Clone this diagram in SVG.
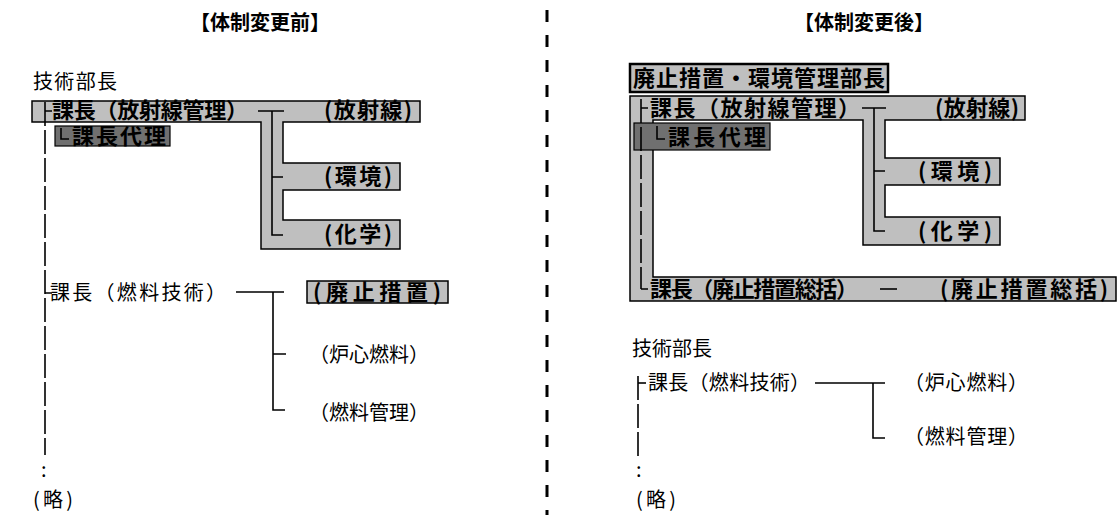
<svg xmlns="http://www.w3.org/2000/svg" width="1120" height="515" viewBox="0 0 1120 515">
<style>
text{font-family:"Noto Sans CJK JP","Noto Sans",sans-serif;font-size:20px;fill:#000}
.t{font-weight:700}
.h{font-weight:700;font-size:22px}
.g{fill:#bfbfbf;stroke:none}
.o{fill:none;stroke:#000;stroke-width:1.5}
.d{fill:#707070;stroke:#000;stroke-width:1.2}
.c{stroke:#000;stroke-width:1.6;fill:none}
.dash{stroke-dasharray:24 4}
.sep{stroke:#000;stroke-width:3;stroke-dasharray:12 13}
</style>
<rect width="1120" height="515" fill="#fff"/>

<g id="titles">
<text class="t" x="260" y="30" text-anchor="middle">【体制変更前】</text>
<text class="t" x="864" y="30" text-anchor="middle">【体制変更後】</text>
</g>
<line id="separator" class="sep" x1="547" y1="10" x2="547" y2="515"/>

<!-- LEFT PANEL -->
<g id="L_shade">
<path class="g" d="M32,101H420V122H283V163H400V190H283V220H400V249H261V122H32Z"/>
<path class="o" d="M32,101H420V122H283V163H400V190H283V220H400V249H261V122H32Z"/>
<rect class="d" x="55" y="126" width="115" height="20"/>
<rect class="g" x="307" y="281" width="141" height="22"/>
<rect class="o" x="307" y="281" width="141" height="22"/>
</g>

<g id="L_connectors">
<path class="c dash" d="M45,102V455"/>
<path class="c" d="M45,111H52M45,293H52"/>
<path class="c" d="M61,128V139H69"/>
<path class="c" d="M258,111H284M272,111V235H283M272,177H283"/>
<path class="c" d="M236,292H284M273,292V410H285M273,354H286"/>
</g>

<g id="L_head"><text x="33" y="89" textLength="84">技術部長</text></g>
<g id="L_rad"><text class="h" x="52" y="118" font-size="21" textLength="196">課長（放射線管理）</text></g>
<g id="L_dep"><text class="h" x="72" y="144" font-size="18" textLength="94">課長代理</text></g>
<g id="L_rad_g"><text class="h" x="324" y="118" font-size="21" textLength="88">(放射線)</text></g>
<g id="L_env"><text class="h" x="324" y="184" textLength="68">(環境)</text></g>
<g id="L_chem"><text class="h" x="324" y="242" textLength="68">(化学)</text></g>
<g id="L_fuel"><text x="50" y="300" textLength="176">課長（燃料技術）</text></g>
<g id="L_decom"><text class="h" x="313" y="300" textLength="128">(廃止措置)</text></g>
<g id="L_core"><text x="309" y="362" textLength="120">（炉心燃料）</text></g>
<g id="L_fmgmt"><text x="309" y="420" textLength="120">（燃料管理）</text></g>
<g id="L_more"><text x="41" y="477" font-size="18">:</text><text x="33" y="507" textLength="40">(略)</text></g>

<!-- RIGHT PANEL -->
<g id="R_shade">
<path class="g" d="M630,96H1025V120H885V158H1000V185H885V217H1000V245H863V120H653V277H1116V301H630Z"/>
<path class="o" d="M630,96H1025V120H885V158H1000V185H885V217H1000V245H863V120H653V277H1116V301H630Z"/>
<rect class="d" x="634" y="123" width="136" height="27"/>
<rect x="630" y="64" width="258" height="28" fill="#bfbfbf" stroke="#000" stroke-width="2.5"/>
</g>

<g id="R_connectors">
<path class="c dash" d="M641,99V289"/>
<path class="c" d="M641,108H648M641,289H648"/>
<path class="c" d="M657,126V139H665"/>
<path class="c" d="M862,108H886M874,108V231H885M874,171H885"/>
<path class="c" d="M880,289H897"/>
<path class="c dash" d="M638,376V456"/>
<path class="c" d="M638,383H646"/>
<path class="c" d="M815,383H885M873,383V438H885"/>
</g>

<g id="R_head"><text class="h" x="633" y="86" textLength="252">廃止措置・環境管理部長</text></g>
<g id="R_rad"><text class="h" x="650" y="116" textLength="210">課長（放射線管理）</text></g>
<g id="R_rad_g"><text class="h" x="935" y="116" textLength="84">(放射線)</text></g>
<g id="R_dep"><text class="h" x="668" y="145" textLength="98">課長代理</text></g>
<g id="R_env"><text class="h" x="918" y="179" textLength="74">(環境)</text></g>
<g id="R_chem"><text class="h" x="918" y="239" textLength="74">(化学)</text></g>
<g id="R_decom"><text class="h" x="650" y="297" textLength="208">課長（廃止措置総括）</text><text class="h" x="940" y="297" textLength="168">(廃止措置総括)</text></g>
<g id="R_tech"><text x="632" y="356" textLength="80">技術部長</text></g>
<g id="R_fuel"><text x="648" y="390" textLength="162">課長（燃料技術）</text></g>
<g id="R_core"><text x="904" y="390" textLength="124">（炉心燃料）</text></g>
<g id="R_fmgmt"><text x="904" y="444" textLength="124">（燃料管理）</text></g>
<g id="R_more"><text x="636" y="477" font-size="18">:</text><text x="636" y="507" textLength="40">(略)</text></g>
</svg>
